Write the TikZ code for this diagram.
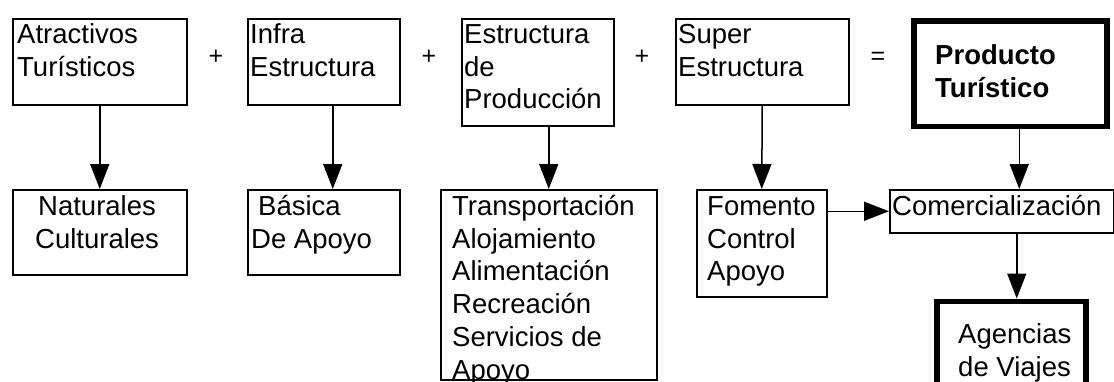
\documentclass[tikz,border=0pt]{standalone}
\usepackage{fontspec}
\setmainfont{Liberation Sans}
\usetikzlibrary{arrows.meta}
\newcommand{\firstrow}{\rule{0pt}{26pt}}

\tikzset{
	box/.style={draw, line width=1.5pt, inner sep=0pt, anchor=north west},
	heavybox/.style={box, line width=5.5pt},
	lbl/.style={inner sep=0pt, align=left, anchor=north west, font=\fontsize{27.5}{32.8}\selectfont},
	op/.style={inner sep=0pt, font=\fontsize{25}{30}\selectfont},
	arr/.style={line width=1.5pt, -{Triangle[length=25pt,width=19pt]}}
}

\begin{document}
\begin{tikzpicture}[x=1pt, y=-1pt]
		%%%%% START %%%%%
		\clip (0,0) rectangle (1114,381);
		
		% upper row
		\node[box, minimum width=174pt, minimum height=86pt] (atr) at (12,18) {};
		\node[box, minimum width=152pt, minimum height=86pt] (inf) at (247,18) {};
		\node[box, minimum width=152pt, minimum height=107pt] (est) at (461,18) {};
		\node[box, minimum width=173pt, minimum height=86pt] (sup) at (675,18) {};
		\node[heavybox, minimum width=193pt, minimum height=105.5pt] (prd) at (911,18) {};
		
		\node[lbl] (atrT) at ([shift={(5,-1)}]atr.north west) {\firstrow Atractivos\\Turísticos};
		\node[lbl] (infT) at ([shift={(3,-1)}]inf.north west) {\firstrow Infra\\Estructura};
		\node[lbl] (estT) at ([shift={(3,-1)}]est.north west) {\firstrow Estructura\\de\\Producción};
		\node[lbl] (supT) at ([shift={(3,-1)}]sup.north west) {\firstrow Super\\Estructura};
		\node[lbl, font=\fontsize{27.5}{32.8}\selectfont\bfseries] (prdT) at ([shift={(24,20)}]prd.north west) {\firstrow Producto\\Turístico};
		
		\node[op] (plusA) at (216,57) {+};
		\node[op] (plusB) at (429,57) {+};
		\node[op] (plusC) at (642,57) {+};
		\node[op] (eq) at (878,58) {=};
		
		% lower row
		\node[box, minimum width=174pt, minimum height=85pt] (nat) at (12,189) {};
		\node[box, minimum width=152pt, minimum height=85pt] (bas) at (247,189) {};
		\node[box, minimum width=216pt, minimum height=190pt] (tra) at (440,189) {};
		\node[box, minimum width=130pt, minimum height=107pt] (fom) at (696,189) {};
		\node[box, minimum width=224pt, minimum height=43pt] (com) at (889,189) {};
		\node[heavybox, minimum width=149pt, minimum height=90pt] (age) at (934,298.5) {};
		
		\node[lbl] (natT) at ([shift={(23,0)}]nat.north west) {\firstrow\hspace*{3pt}Naturales\\Culturales};
		\node[lbl] (basT) at ([shift={(4,0)}]bas.north west) {\firstrow\hspace*{7pt}Básica\\De Apoyo};
		\node[lbl] (traT) at ([shift={(12,0)}]tra.north west) {\firstrow Transportación\\Alojamiento\\Alimentación\\Recreación\\Servicios de\\Apoyo};
		\node[lbl] (fomT) at ([shift={(11,0)}]fom.north west) {\firstrow Fomento\\Control\\Apoyo};
		\node[lbl] (comT) at ([shift={(3,0)}]com.north west) {\firstrow Comercialización};
		\node[lbl] (ageT) at ([shift={(24,18.5)}]age.north west) {\firstrow Agencias\\de Viajes};
		
		% arrows
		\draw[arr] (atr.south) -- (atr.south |- nat.north);
		\draw[arr] ([xshift=9pt]inf.south) -- ([xshift=9pt]bas.north);
		\draw[arr] (est.south -| tra.north) -- (tra.north);
		\draw[arr] (sup.south) -- (fom.north);
		\draw[arr] ([xshift=9pt]prd.south) -- ([xshift=9pt]prd.south |- com.north);
		\draw[arr] (fom.east |- com.west) -- (com.west);
		\draw[arr] ([xshift=15pt]com.south) -- ([xshift=15pt]com.south |- age.north);
		
		%%%%% END %%%%%
\end{tikzpicture}
\end{document}
